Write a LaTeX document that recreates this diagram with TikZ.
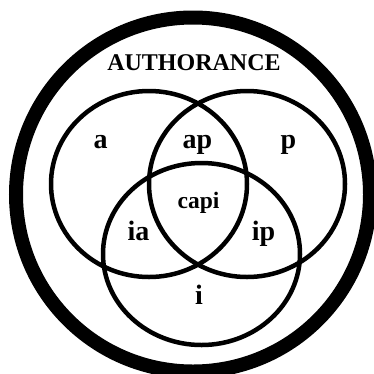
\documentclass[tikz,border=0pt]{standalone}
\usepackage{fontspec}
\setmainfont{Liberation Serif}

\begin{document}
\begin{tikzpicture}[x=1pt,y=-1pt,
  every node/.style={font=\bfseries\fontsize{28}{30}\selectfont,inner sep=0pt,anchor=base},
  set/.style={line width=4.5pt}]
  \useasboundingbox (0,0) rectangle (374,373);
  \draw[line width=14pt] (193,194.5) circle[radius=177];
  \draw[set] (149,184) ellipse[x radius=98,y radius=93];
  \draw[set] (247,184) ellipse[x radius=98,y radius=93];
  \draw[set] (201.5,254) ellipse[x radius=98.5,y radius=91];
  \node[font=\bfseries\fontsize{24}{26}\selectfont] (auth) at (194,70.5) {AUTHORANCE};
  \node (a) at (100.5,148) {a};
  \node (ap) at (197.5,148) {ap};
  \node (p) at (288.5,148) {p};
  \node[font=\bfseries\fontsize{23.5}{26}\selectfont] (capi) at (198.5,208) {capi};
  \node (ia) at (138.5,240.5) {ia};
  \node (ip) at (263.5,240.5) {ip};
  \node (i) at (199,304) {i};
\end{tikzpicture}
\end{document}
